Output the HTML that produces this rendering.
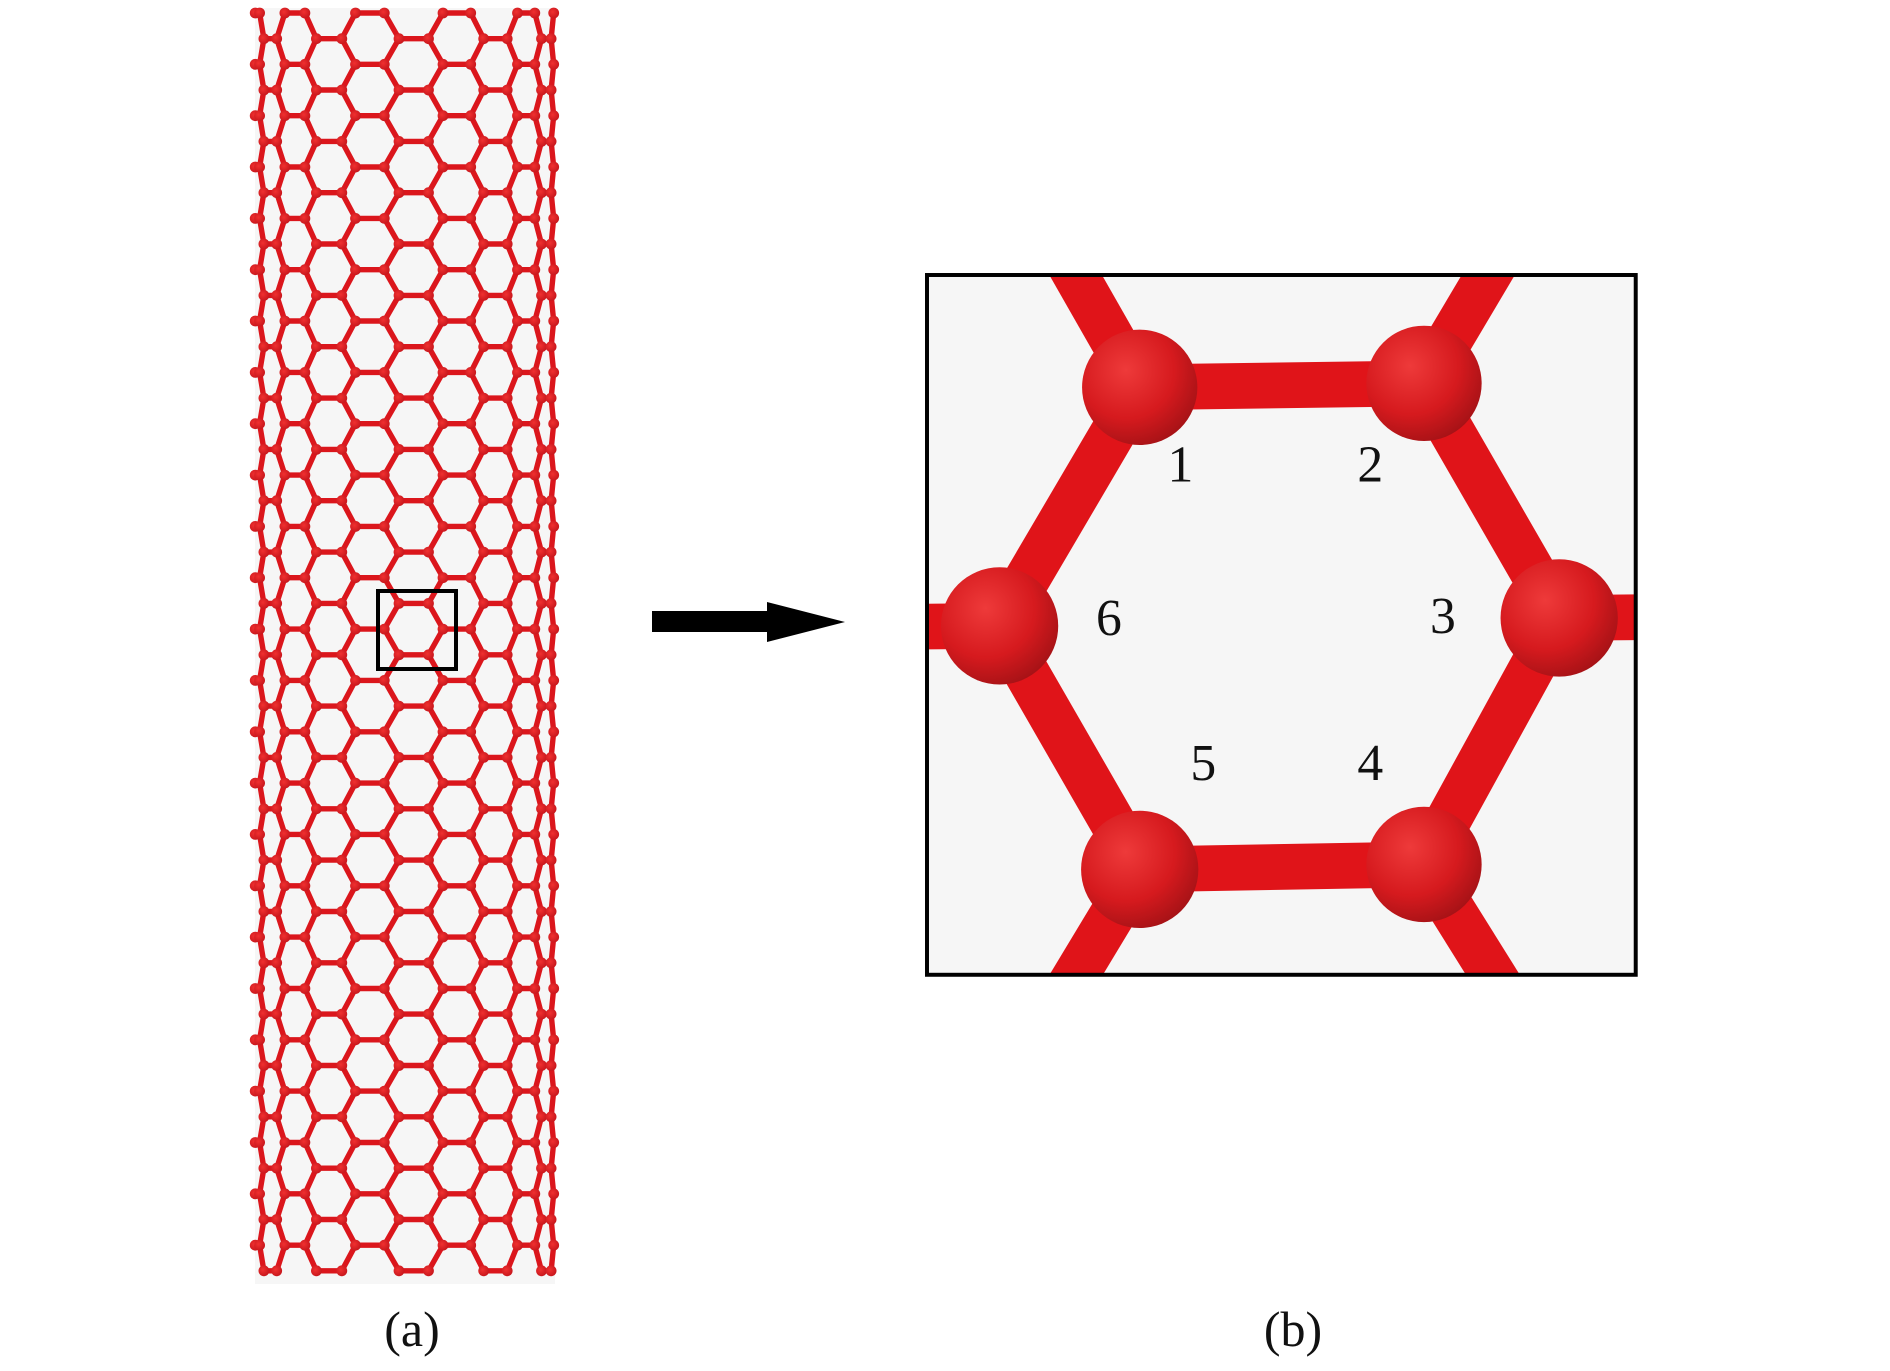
<!DOCTYPE html>
<html><head><meta charset="utf-8"><style>
html,body{margin:0;padding:0;background:#fff;width:1890px;height:1371px;overflow:hidden}
svg{display:block}
text{font-family:"Liberation Serif",serif;fill:#111}
</style></head><body>
<svg id="s" width="1890" height="1371" viewBox="0 0 1890 1371" xmlns="http://www.w3.org/2000/svg">
<defs>
<radialGradient id="g" cx="0.38" cy="0.35" r="0.7">
<stop offset="0" stop-color="#ee3a3a"/><stop offset="0.6" stop-color="#d61a1e"/><stop offset="1" stop-color="#a51216"/>
</radialGradient>
<radialGradient id="gs" cx="0.4" cy="0.4" r="0.7">
<stop offset="0" stop-color="#f03030"/><stop offset="1" stop-color="#c3141a"/>
</radialGradient>
<clipPath id="cb"><rect x="932" y="276" width="713" height="704"/></clipPath>
</defs>
<rect x="255" y="8" width="300" height="1276" fill="#f6f6f6"/>
<g id="tube"></g>
<rect x="378" y="591" width="78" height="78" fill="none" stroke="#000" stroke-width="4"/>
<rect x="652" y="611" width="118" height="21" fill="#000"/>
<polygon points="767,602 845,622 767,642" fill="#000"/>
<g transform="translate(-5,-1) translate(932,276) scale(0.994) translate(-932,-276)">
<rect x="932" y="276" width="713" height="704" fill="#f6f6f6"/>
<g clip-path="url(#cb)" stroke="#e01419" stroke-width="46" stroke-linecap="butt">
<line x1="1146" y1="389" x2="1432" y2="385"/>
<line x1="1432" y1="385" x2="1568" y2="621"/>
<line x1="1568" y1="621" x2="1432" y2="869"/>
<line x1="1432" y1="869" x2="1146" y2="874"/>
<line x1="1146" y1="874" x2="1005" y2="629"/>
<line x1="1005" y1="629" x2="1146" y2="389"/>
<line x1="1146" y1="389" x2="1061" y2="240"/>
<line x1="1432" y1="385" x2="1518" y2="240"/>
<line x1="1005" y1="629" x2="900" y2="630"/>
<line x1="1568" y1="621" x2="1680" y2="620"/>
<line x1="1146" y1="874" x2="1064" y2="1010"/>
<line x1="1432" y1="869" x2="1520" y2="1010"/>
</g>
<g fill="url(#g)">
<circle cx="1146" cy="389" r="58"/><circle cx="1432" cy="385" r="58"/>
<circle cx="1568" cy="621" r="59"/><circle cx="1432" cy="869" r="58"/>
<circle cx="1146" cy="874" r="59"/><circle cx="1005" cy="629" r="59"/>
</g>
<rect x="932" y="276" width="713" height="704" fill="none" stroke="#000" stroke-width="4"/>
<g font-size="52" text-anchor="middle">
<text x="1187" y="484">1</text><text x="1378" y="484">2</text>
<text x="1451" y="636">3</text><text x="1378" y="784">4</text>
<text x="1210" y="784">5</text><text x="1115" y="638">6</text>
</g>
</g>
<text x="412" y="1346" font-size="50" text-anchor="middle">(a)</text>
<text x="1293" y="1346" font-size="50" text-anchor="middle">(b)</text>
</svg>
<script>
(function(){
var ns="http://www.w3.org/2000/svg",g=document.getElementById("tube");
var cx=405,R=150,a=29.6,P=3*a,C=2*Math.PI*R,off=-6,dy=25.67,y0=13,rows=50;
function X(s){var t=s/R;return {x:cx+R*Math.sin(t),c:Math.cos(t)};}
function pos(row){var o=(row%2==1)?off:off+1.5*a;var r=[];
 for(var k=-8;k<=8;k++){r.push([k*P+o,0]);r.push([k*P+o+a,1]);}return r;}
var bonds="",atoms="";
function vis(s){return Math.abs(s)<=C/4+2;}
for(var i=0;i<rows;i++){
 var y=y0+i*dy, P1=pos(i);
 for(var j=0;j<P1.length;j++){
  var s=P1[j][0]; if(!vis(s))continue; var p=X(s);
  if(P1[j][1]==0 && vis(s+a)){var q=X(s+a);bonds+="M"+p.x.toFixed(1)+" "+y.toFixed(1)+"L"+q.x.toFixed(1)+" "+y.toFixed(1);}
  atoms+='<circle cx="'+p.x.toFixed(1)+'" cy="'+y.toFixed(1)+'" r="5.4"/>';
  if(i+1<rows){var y2=y+dy;
   var t1=(P1[j][1]==1)?s+0.5*a:s-0.5*a;
   if(vis(t1)){var q2=X(t1);bonds+="M"+p.x.toFixed(1)+" "+y.toFixed(1)+"L"+q2.x.toFixed(1)+" "+y2.toFixed(1);}
  }
 }
}
var path=document.createElementNS(ns,"path");
path.setAttribute("d",bonds);path.setAttribute("stroke","#db161c");path.setAttribute("stroke-width","5.4");path.setAttribute("fill","none");
g.appendChild(path);
var ga=document.createElementNS(ns,"g");ga.setAttribute("fill","url(#gs)");ga.innerHTML=atoms;g.appendChild(ga);
})();
</script>
</body></html>
